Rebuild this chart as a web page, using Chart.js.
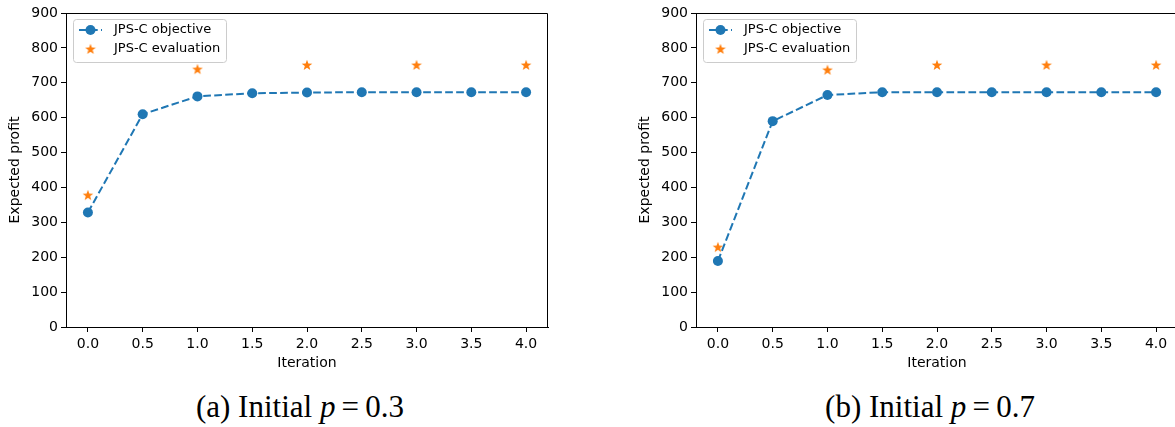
<!DOCTYPE html>
<html>
<head>
<meta charset="utf-8">
<script src="https://cdn.jsdelivr.net/npm/chart.js@4.4.0/dist/chart.umd.min.js"></script>
<style>
html, body { margin: 0; padding: 0; background: #fff; overflow: hidden; width: 1175px; height: 427px; }
.wrap { position: absolute; top: 0; width: 555px; height: 380px; }
.cap { position: absolute; top: 391px; width: 600px; text-align: center; font-family: "Liberation Serif", serif; font-size: 31px; line-height: 31px; color: #000; }
</style>
</head>
<body>
<div class="wrap" style="left:0"><canvas id="chartA" width="555" height="380"></canvas></div>
<div class="wrap" style="left:630px"><canvas id="chartB" width="555" height="380"></canvas></div>
<div class="cap" style="left:0">(a) Initial <i>p</i>&thinsp;=&thinsp;0.3</div>
<div class="cap" style="left:630px">(b) Initial <i>p</i>&thinsp;=&thinsp;0.7</div>
<script>
// data
const iterObjective = [0, 0.5, 1, 1.5, 2, 2.5, 3, 3.5, 4];
const iterEvaluation = [0, 1, 2, 3, 4];
const objectiveA = [328, 610, 661, 670, 672, 673, 673, 673, 673];
const evaluationA = [378, 739, 751, 751, 751];
const objectiveB = [189, 590, 665, 673, 673, 673, 673, 673, 673];
const evaluationB = [229, 737, 751, 751, 751];
const xTicks = [0, 0.5, 1, 1.5, 2, 2.5, 3, 3.5, 4];
const yTicks = [0, 100, 200, 300, 400, 500, 600, 700, 800, 900];

const BLUE = '#1f77b4';
const ORANGE = '#ff7f0e';
const FONT = '"DejaVu Sans", sans-serif';

// filled star marker like matplotlib '*'
const starImg = document.createElement('canvas');
starImg.width = 12; starImg.height = 12;
(function () {
  const c = starImg.getContext('2d');
  c.fillStyle = ORANGE;
  c.beginPath();
  for (let i = 0; i < 10; i++) {
    const r = i % 2 === 0 ? 5.6 : 2.3;
    const a = -Math.PI / 2 + i * Math.PI / 5;
    const px = 6 + r * Math.cos(a), py = 6.4 + r * Math.sin(a);
    if (i === 0) c.moveTo(px, py); else c.lineTo(px, py);
  }
  c.closePath();
  c.fill();
})();

// top/right spines and the boxed legend inside the axes
const frameLegend = {
  id: 'frameLegend',
  afterDatasetsDraw(chart) {
    const { ctx, chartArea: a } = chart;
    ctx.save();
    ctx.strokeStyle = '#000';
    ctx.lineWidth = 1;
    ctx.beginPath();
    ctx.moveTo(a.left, a.top + 0.5);
    ctx.lineTo(a.right - 0.5, a.top + 0.5);
    ctx.lineTo(a.right - 0.5, a.bottom);
    ctx.stroke();

    const bx = a.left + 7, by = a.top + 6, bw = 153, bh = 43;
    ctx.fillStyle = 'rgba(255,255,255,0.8)';
    ctx.strokeStyle = '#cccccc';
    ctx.beginPath();
    ctx.roundRect(bx + 0.5, by + 0.5, bw, bh, 3);
    ctx.fill();
    ctx.stroke();

    const r1 = a.top + 17, r2 = a.top + 36;
    const mx = a.left + 24.5;
    ctx.strokeStyle = BLUE;
    ctx.lineWidth = 2;
    ctx.setLineDash([7.7, 3.3]);
    ctx.beginPath();
    ctx.moveTo(a.left + 13, r1);
    ctx.lineTo(a.left + 36, r1);
    ctx.stroke();
    ctx.setLineDash([]);
    ctx.fillStyle = BLUE;
    ctx.beginPath();
    ctx.arc(mx, r1, 5, 0, Math.PI * 2);
    ctx.fill();
    ctx.drawImage(starImg, mx - 6, r2 - 6);

    ctx.fillStyle = '#000';
    ctx.font = '13px ' + FONT;
    ctx.textBaseline = 'middle';
    ctx.fillText(chart.data.datasets[0].label, a.left + 48, r1);
    ctx.fillText(chart.data.datasets[1].label, a.left + 48, r2);
    ctx.restore();
  }
};

function makeChart(id, objective, evaluation) {
  new Chart(document.getElementById(id), {
    type: 'line',
    data: {
      datasets: [
        {
          label: 'JPS-C objective',
          data: iterObjective.map((x, i) => ({ x: x, y: objective[i] })),
          borderColor: BLUE,
          backgroundColor: BLUE,
          borderWidth: 2,
          borderDash: [7.7, 3.3],
          pointRadius: 5,
          pointBorderWidth: 0,
          pointBackgroundColor: BLUE,
          fill: false
        },
        {
          label: 'JPS-C evaluation',
          data: iterEvaluation.map((x, i) => ({ x: x, y: evaluation[i] })),
          showLine: false,
          pointStyle: starImg,
          pointRadius: 6,
          backgroundColor: ORANGE,
          borderColor: ORANGE
        }
      ]
    },
    options: {
      responsive: false,
      animation: false,
      layout: { padding: { top: 13, right: 5, left: 0, bottom: 0 } },
      plugins: { legend: { display: false }, tooltip: { enabled: false } },
      scales: {
        x: {
          type: 'linear',
          min: -0.2,
          max: 4.2,
          afterBuildTicks: s => { s.ticks = xTicks.map(v => ({ value: v })); },
          afterFit: s => { s.height = 53; },
          grid: { drawOnChartArea: false, drawTicks: true, tickLength: 5, color: '#000' },
          border: { color: '#000', width: 1 },
          ticks: {
            color: '#000', padding: 4, maxRotation: 0,
            font: { family: FONT, size: 14 },
            callback: v => Number(v).toFixed(1)
          },
          title: {
            display: true, text: 'Iteration', color: '#000',
            font: { family: FONT, size: 14 },
            padding: { top: 8, bottom: 8 }
          }
        },
        y: {
          min: 0,
          max: 900,
          afterBuildTicks: s => { s.ticks = yTicks.map(v => ({ value: v })); },
          afterFit: s => { s.width = 66; },
          grid: { drawOnChartArea: false, drawTicks: true, tickLength: 5, color: '#000' },
          border: { color: '#000', width: 1 },
          ticks: { color: '#000', padding: 3, font: { family: FONT, size: 14 } },
          title: {
            display: true, text: 'Expected profit', color: '#000',
            font: { family: FONT, size: 14 },
            padding: { top: 7, bottom: 7 }
          }
        }
      }
    },
    plugins: [frameLegend]
  });
}

makeChart('chartA', objectiveA, evaluationA);
makeChart('chartB', objectiveB, evaluationB);
</script>
</body>
</html>
